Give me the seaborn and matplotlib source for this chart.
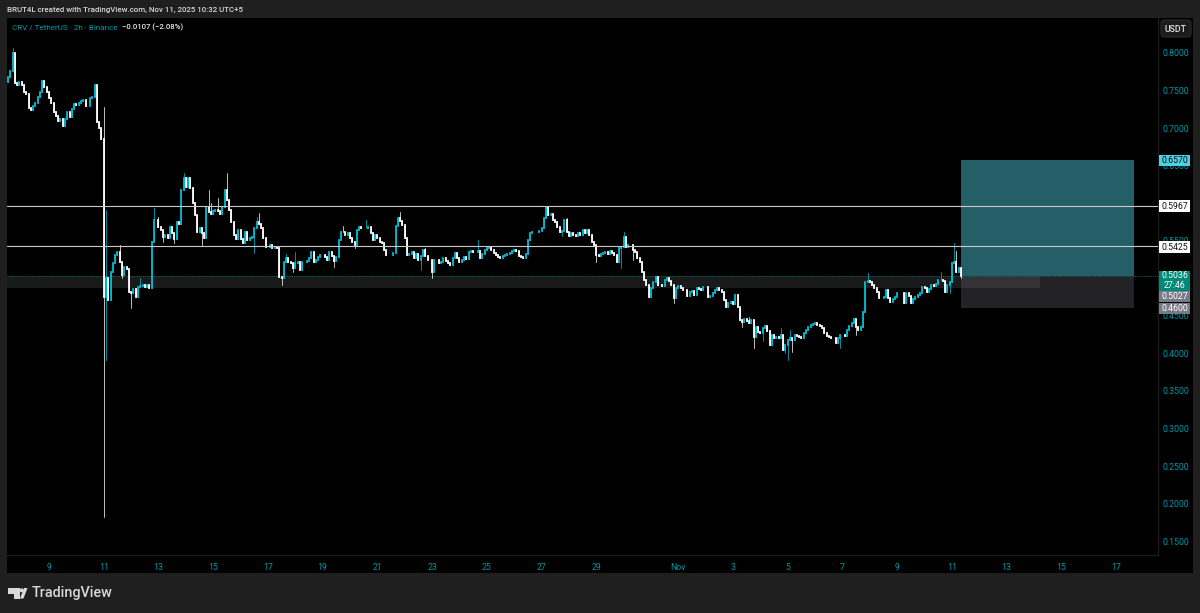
import matplotlib
matplotlib.use("Agg")
import matplotlib.pyplot as plt
from matplotlib.patches import Rectangle, Polygon, Ellipse, FancyBboxPatch
import pandas as pd
import numpy as np
import seaborn as sns

oct07_08 = [.768,.776,.800,.760,.757,.762,.757,.748,.745,.727,.724,.730,.733,.742,.748,.763,.755,.748]
oct09 = [.740,.733,.722,.716,.710,.712,.703,.712,.722,.715,.725,.732]
oct10 = [.731,.733,.736,.738,.729,.730,.740,.742,.757,.708,.700,.685]
oct11 = [.475,.500,.471,.508,.520,.531,.535,.522,.504,.515,.512,.482]
oct12 = [.480,.486,.475,.488,.490,.491,.488,.491,.487,.548,.578,.578]
oct13 = [.568,.564,.555,.558,.553,.568,.560,.552,.575,.572,.618,.633]
oct14 = [.621,.633,.620,.600,.584,.562,.567,.560,.554,.595,.588,.586]
oct15 = [.590,.591,.590,.586,.595,.618,.604,.591,.575,.558,.552,.564]
oct16 = [.552,.547,.562,.551,.553,.555,.567,.575,.572,.567,.553,.542]
oct17 = [.542,.544,.540,.542,.541,.502,.500,.522,.527,.522,.520,.514]
oct18 = [.520,.522,.511,.522,.522,.523,.527,.535,.522,.524,.528,.531]
oct19 = [.531,.528,.524,.535,.530,.523,.528,.551,.562,.561,.558,.560]
oct20 = [.554,.548,.544,.564,.568,.567,.567,.567,.568,.560,.551,.558]
oct21 = [.553,.549,.547,.538,.531,.531,.531,.534,.570,.580,.576,.571]
oct22 = [.554,.531,.533,.535,.527,.533,.524,.530,.538,.530,.524,.524]
oct23 = [.508,.524,.524,.520,.522,.527,.523,.520,.518,.527,.534,.527]
oct24 = [.522,.524,.528,.526,.535,.536,.535,.535,.536,.527,.532,.538]
oct25 = [.540,.542,.538,.534,.531,.528,.527,.530,.531,.533,.534,.537]
oct26 = [.538,.536,.530,.528,.527,.533,.551,.560,.562,.561,.561,.563]
oct27 = [.567,.580,.595,.584,.585,.578,.575,.568,.562,.563,.578,.562]
oct28 = [.556,.560,.558,.556,.560,.558,.564,.560,.564,.558,.548,.544]
oct29 = [.531,.530,.533,.534,.535,.533,.536,.534,.531,.522,.540,.542]
oct30 = [.555,.542,.544,.544,.538,.535,.527,.522,.508,.498,.491,.475]
oct31 = [.487,.495,.502,.491,.491,.490,.498,.500,.497,.491,.474,.487]
nov01 = [.490,.487,.484,.484,.476,.482,.483,.478,.487,.486,.485,.488]
nov02 = [.489,.475,.477,.481,.484,.487,.484,.482,.471,.462,.467,.468]
nov03 = [.466,.478,.462,.444,.442,.446,.443,.440,.445,.422,.435,.428]
nov04 = [.427,.434,.436,.430,.411,.424,.420,.422,.421,.424,.404,.411]
nov05 = [.418,.420,.418,.424,.423,.422,.421,.427,.431,.435,.438,.439]
nov06 = [.440,.438,.436,.434,.427,.423,.422,.421,.420,.414,.421,.424]
nov07 = [.424,.423,.431,.436,.440,.446,.435,.431,.435,.455,.495,.496]
nov08 = [.495,.491,.487,.482,.474,.474,.475,.484,.474,.468,.472,.475]
nov09 = [.480,.480,.480,.467,.480,.476,.467,.472,.475,.478,.480,.488]
nov10 = [.487,.482,.486,.491,.490,.492,.498,.498,.497,.482,.491,.495]
nov11 = [.520,.522,.508,.514,.5036]

first_open = 0.762

high_idx = [2,42,43,49,58,64,66,77,88,89,92,96,109,110,122,126,147,157,172,183,206,237,245,270,325,333,339,343,377,409,415,416]
high_val = [.807,.728,.591,.545,.500,.594,.582,.640,.617,.600,.607,.640,.582,.587,.533,.535,.570,.578,.588,.540,.551,.596,.580,.562,.449,.436,.434,.431,.507,.508,.547,.536]
low_idx = [42,43,50,54,68,73,85,108,120,125,143,152,181,186,243,258,269,274,292,322,327,331,341,342,344,365,372,413,418]
low_val = [.182,.391,.500,.460,.548,.547,.545,.534,.491,.508,.515,.540,.511,.500,.556,.522,.514,.524,.467,.435,.407,.416,.401,.391,.402,.407,.424,.480,.500]

right_ticks = [.80,.75,.70,.65,.55,.45,.40,.35,.30,.25,.20,.15]
date_ticks = ["2025-10-09","2025-10-11","2025-10-13","2025-10-15","2025-10-17","2025-10-19","2025-10-21",
              "2025-10-23","2025-10-25","2025-10-27","2025-10-29","2025-11-01","2025-11-03","2025-11-05",
              "2025-11-07","2025-11-09","2025-11-11","2025-11-13","2025-11-15","2025-11-17"]
date_labels = ["9","11","13","15","17","19","21","23","25","27","29","Nov","3","5","7","9","11","13","15","17"]

level_prices = [0.5967, 0.5425]
tp_price, entry_price, sl_price = 0.6570, 0.5027, 0.4600
zone_top, zone_bottom = 0.5036, 0.4875
last_price = 0.5036

sns.set_theme(style="dark")
FONT = ["Roboto", "DejaVu Sans"]
plt.rcParams["font.family"] = FONT

W, H = 1200, 613
BG = "#1f1f1f"; BLACK = "#000000"
UP = "#00bcd4"; DOWN = "#ffffff"; TICK = "#0097a7"
FS = 6.3

closes = np.array(oct07_08+oct09+oct10+oct11+oct12+oct13+oct14+oct15+oct16+oct17+oct18+oct19+oct20+oct21+oct22+
                  oct23+oct24+oct25+oct26+oct27+oct28+oct29+oct30+oct31+nov01+nov02+nov03+nov04+nov05+nov06+
                  nov07+nov08+nov09+nov10+nov11)
opens = np.r_[first_open, closes[:-1]]
highs = np.maximum(opens, closes); lows = np.minimum(opens, closes)
highs[high_idx] = high_val; lows[low_idx] = low_val
times = pd.date_range("2025-10-07 12:00", periods=len(closes), freq="2h")
direction = np.where(closes >= opens, "up", "down")

n = len(closes)
wicks = pd.DataFrame({"t": np.r_[times, times], "price": np.r_[lows, highs],
                      "candle": np.r_[np.arange(n), np.arange(n)], "dir": np.r_[direction, direction]})
bodies = pd.DataFrame({"t": np.r_[times, times], "price": np.r_[opens, closes],
                       "candle": np.r_[np.arange(n), np.arange(n)], "dir": np.r_[direction, direction]})

fig = plt.figure(figsize=(W/100, H/100), dpi=100, facecolor=BG)
def fx(x): return x/W
def fy(y): return 1-y/H

# panes
fig.add_artist(Rectangle((fx(7), fy(573)), fx(1186), (573-18)/H, transform=fig.transFigure, fc=BLACK, ec="none", zorder=-5))

ax = fig.add_axes([fx(7), fy(555), fx(1158-7), (555-18)/H], facecolor=BLACK)
palette = {"up": UP, "down": DOWN}
t_of = lambda i: times[0] + pd.Timedelta(hours=2*i)
px2i = lambda x: (x-8)/2.28

# position boxes and zone band
t_start, t_end = t_of(px2i(961)), t_of(px2i(1134))
left, right = t_of(px2i(7)), t_of(px2i(1158))
ax.fill_between([left, t_of(px2i(1040))], zone_bottom, zone_top, color="#1a1a1a", lw=0, zorder=1)
ax.fill_between([t_start, t_end], entry_price, tp_price, color="#245f68", lw=0, zorder=1)
ax.fill_between([t_start, t_end], sl_price, entry_price, color="#232326", lw=0, zorder=1)
ax.fill_between([t_start, t_of(px2i(1040))], zone_bottom, entry_price, color="#333336", lw=0, zorder=1.1)

sns.lineplot(data=wicks, x="t", y="price", hue="dir", units="candle", estimator=None, sort=False,
             palette=palette, linewidth=0.7, alpha=0.75, legend=False, ax=ax, zorder=3)
sns.lineplot(data=bodies, x="t", y="price", hue="dir", units="candle", estimator=None, sort=False,
             palette=palette, linewidth=1.3, legend=False, ax=ax, zorder=4, solid_capstyle="projecting")

for p in level_prices:
    ax.axhline(p, color="#c9c9c9", lw=0.8, zorder=5)
ax.plot([left, t_start], [last_price]*2, color="#0d5c5c", lw=0.8, ls=(0,(1,1)), zorder=2)
ax.plot([t_of(n-1), right], [last_price]*2, color="#0d5c5c", lw=0.8, ls=(0,(1,1)), zorder=2)

ax.set_xlim(left, right)
ax.set_ylim(0.8-(555-53)/751, 0.8+(53-18)/751)
ax.set_xlabel(""); ax.set_ylabel("")
ax.grid(False)
ax.set_xticks(pd.to_datetime(date_ticks)); ax.set_xticklabels(date_labels)
ax.yaxis.tick_right()
ax.set_yticks(right_ticks); ax.set_yticklabels([f"{v:.4f}" for v in right_ticks])
ax.tick_params(axis="x", length=0, labelcolor=TICK, labelsize=FS, pad=5.5)
ax.tick_params(axis="y", length=0, labelcolor=TICK, labelsize=FS, pad=3.5)
for s in ax.spines.values():
    s.set_visible(False)
for spine in ("bottom", "right"):
    ax.spines[spine].set_visible(True); ax.spines[spine].set_color("#1c1c1c"); ax.spines[spine].set_linewidth(1)

# price tags on the right axis
def tag(y0, y1, fc, txt, col):
    fig.add_artist(Rectangle((fx(1159), fy(y1)), fx(31), (y1-y0)/H, transform=fig.transFigure, fc=fc, ec="none", zorder=8))
    if txt:
        fig.text(fx(1175), fy((y0+y1)/2+0.3), txt, color=col, fontsize=FS, ha="center", va="center", zorder=9)

tag(155, 166, "#4dd0e1", "0.6570", "#111111")
tag(200, 211.5, "#ffffff", "0.5967", "#111111")
tag(241, 252.5, "#ffffff", "0.5425", "#111111")
tag(271, 291, "#00897b", "", "#ffffff")
fig.text(fx(1175), fy(276), "0.5036", color="#ffffff", fontsize=FS, ha="center", va="center", zorder=9)
fig.text(fx(1175), fy(285.5), "27:46", color="#ffffff", fontsize=FS, ha="center", va="center", zorder=9)
tag(291, 302, "#787b86", "0.5027", "#ffffff")
tag(303, 314, "#787b86", "0.4600", "#ffffff")

# USDT button
fig.add_artist(FancyBboxPatch((1162.5, H-35.5), 27, 14, boxstyle="round,pad=1.5,rounding_size=3",
                              transform=None, fc="#1c1c1c", ec="#2e2e2e", lw=0.8, zorder=8))
fig.text(fx(1175.5), fy(29), "USDT", color="#e6e6e6", fontsize=FS, fontweight="medium", ha="center", va="center", zorder=9)

# header and legend
fig.text(fx(7), fy(9.5), "BRUT4L created with TradingView.com, Nov 11, 2025 10:32 UTC+5", color="#d8d8d8", fontsize=5.7, fontweight="medium", ha="left", va="center")
fig.text(fx(12), fy(27.5), "CRV / TetherUS · 2h · Binance", color=TICK, fontsize=5.9, ha="left", va="center", zorder=9)
fig.text(fx(122), fy(27.5), "−0.0107 (−2.08%)", color="#e6e6e6", fontsize=5.6, fontweight="medium", ha="left", va="center", zorder=9)

# TradingView logo and wordmark
logo = "#d9d9d9"
fig.add_artist(Polygon([(fx(8),fy(588)),(fx(19.5),fy(588)),(fx(19.5),fy(598.5)),(fx(14),fy(598.5)),(fx(14),fy(593.5)),(fx(8),fy(593.5))],
                       closed=True, transform=fig.transFigure, fc=logo, ec="none"))
fig.add_artist(Polygon([(fx(20),fy(598.5)),(fx(24),fy(588)),(fx(27.5),fy(588)),(fx(23.5),fy(598.5))],
                       closed=True, transform=fig.transFigure, fc=logo, ec="none"))
fig.add_artist(Ellipse((fx(21.7),fy(590.3)),fx(4),4/H,transform=fig.transFigure,fc=logo,ec="none"))
fig.text(fx(32), fy(592.5), "TradingView", color=logo, fontsize=10.4, fontweight="medium", ha="left", va="center")

fig.savefig("out.png", dpi=100, facecolor=BG)
